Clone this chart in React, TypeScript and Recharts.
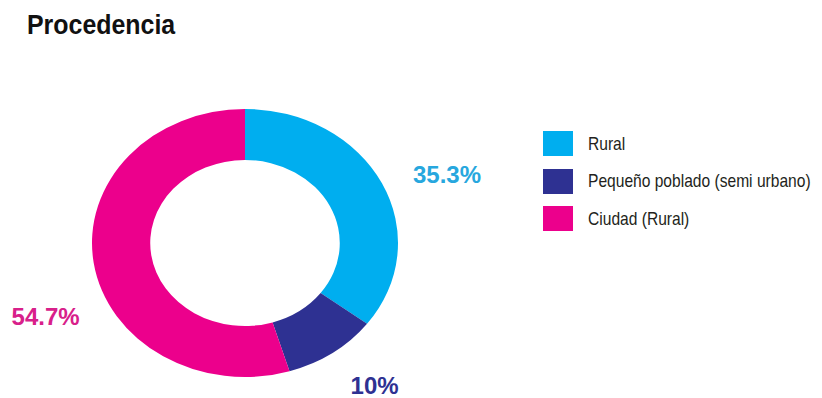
import React from 'react';
import { PieChart, Pie, Cell, Sector, Legend } from 'recharts';

// Origin of survey respondents
const categories = ['Rural', 'Pequeño poblado (semi urbano)', 'Ciudad (Rural)'];
const shares = [35.3, 10, 54.7];
const sliceColors = ['#00AEEF', '#2E3192', '#EC008C'];
const labelColors = ['#27A7DE', '#2E3192', '#D8208A'];

const data = categories.map((name, i) => ({ name, value: shares[i] }));

const W = 822;
const H = 398;
const CX = 245;
const CY = 243;
const RY = 134; // vertical radius; horizontal radius is stretched
const STRETCH = 153 / 134;

const baseFont = '"Liberation Sans", Arial, sans-serif';

// Sector drawn on a horizontally stretched ring (elliptical donut)
const StretchedSector = (props: any) => {
  const { cx, cy } = props;
  return (
    <g transform={`translate(${cx} ${cy}) scale(${STRETCH} 1) translate(${-cx} ${-cy})`}>
      <Sector {...props} stroke="none" />
    </g>
  );
};

// Percentage labels placed beside the outer edge of each slice
const labelPlacement = [
  { dx: 31, dy: 0, anchor: 'start' },
  { dx: 18, dy: 41, anchor: 'start' },
  { dx: -14, dy: 62, anchor: 'end' },
];

const renderLabel = (props: any) => {
  const { cx, cy, midAngle, outerRadius, index, value } = props;
  const rad = (-midAngle * Math.PI) / 180;
  const ex = cx + outerRadius * STRETCH * Math.cos(rad);
  const ey = cy + outerRadius * Math.sin(rad);
  const p = labelPlacement[index];
  return (
    <text
      x={ex + p.dx}
      y={ey + p.dy}
      textAnchor={p.anchor}
      fill={labelColors[index]}
      fontFamily={baseFont}
      fontWeight="bold"
      fontSize={24}
    >
      {`${value}%`}
    </text>
  );
};

const renderLegend = (props: any) => {
  const payload = [...(props.payload || [])].sort(
    (a: any, b: any) => categories.indexOf(a.value) - categories.indexOf(b.value)
  );
  return (
    <div style={{ display: 'flex', flexDirection: 'column' }}>
      {payload.map((entry: any, i: number) => (
        <div
          key={i}
          style={{ display: 'flex', alignItems: 'center', height: 25, marginBottom: 12.5 }}
        >
          <div style={{ width: 30, height: 25, background: entry.color, flex: '0 0 auto' }} />
          <span
            style={{
              marginLeft: 15,
              fontFamily: baseFont,
              fontSize: 19,
              color: '#231F20',
              whiteSpace: 'nowrap',
              display: 'inline-block',
              transform: 'scaleX(0.82)',
              transformOrigin: 'left center',
            }}
          >
            {entry.value}
          </span>
        </div>
      ))}
    </div>
  );
};

export default function App() {
  return (
    <div style={{ position: 'absolute', left: 0, top: 0, width: W, height: H, background: '#fff' }}>
      <div
        style={{
          position: 'absolute',
          left: 27,
          top: 11,
          fontFamily: baseFont,
          fontWeight: 'bold',
          fontSize: 28,
          lineHeight: '28px',
          color: '#111',
          whiteSpace: 'nowrap',
          transform: 'scaleX(0.89)',
          transformOrigin: 'left top',
        }}
      >
        Procedencia
      </div>
      <PieChart
        width={W}
        height={H}
        margin={{ top: 0, right: 0, bottom: 0, left: 0 }}
        style={{ position: 'absolute', left: 0, top: 0 }}
      >
        <Pie
          data={data}
          dataKey="value"
          nameKey="name"
          cx={CX}
          cy={CY}
          innerRadius={83}
          outerRadius={RY}
          startAngle={90}
          endAngle={-270}
          stroke="none"
          shape={StretchedSector}
          label={renderLabel}
          labelLine={false}
          isAnimationActive={false}
        >
          {data.map((d, i) => (
            <Cell key={d.name} fill={sliceColors[i]} />
          ))}
        </Pie>
        <Legend
          content={renderLegend}
          wrapperStyle={{ position: 'absolute', left: 543, top: 131, width: 279, height: 110 }}
        />
      </PieChart>
    </div>
  );
}
